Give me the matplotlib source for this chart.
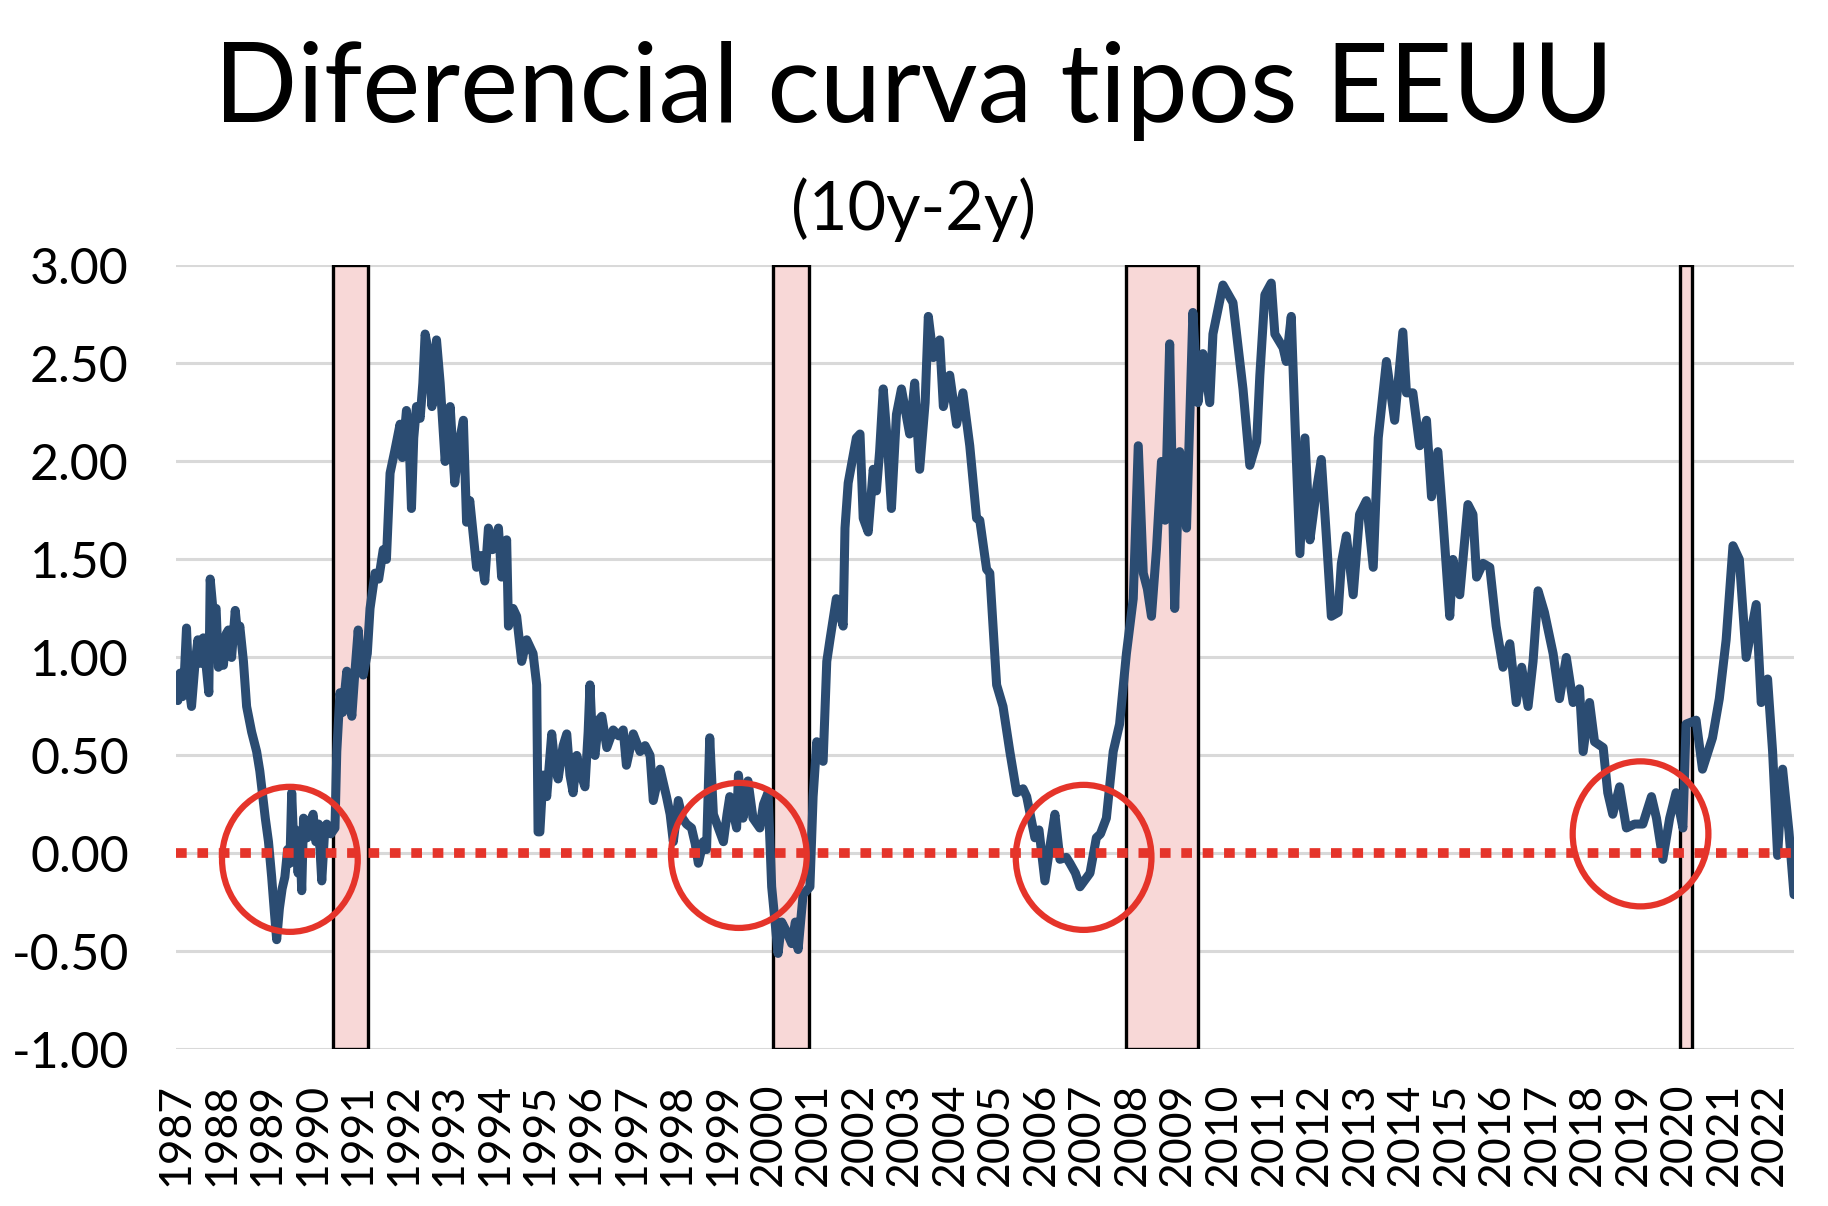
import matplotlib
matplotlib.use("Agg")
import matplotlib.pyplot as plt
from matplotlib.patches import Ellipse
from matplotlib.ticker import FormatStrFormatter

plt.rcParams["font.family"] = ["Lato", "DejaVu Sans"]
plt.rcParams["axes.unicode_minus"] = False

# diferencial 10y-2y (fecha en años decimales, valor en puntos)
fechas = [
    1987.00, 1987.04, 1987.09, 1987.14, 1987.19, 1987.23, 1987.28, 1987.34, 1987.41, 1987.48,
    1987.54, 1987.60, 1987.66, 1987.72, 1987.75, 1987.82, 1987.88, 1987.93, 1988.00, 1988.04,
    1988.10, 1988.15, 1988.22, 1988.30, 1988.36, 1988.40, 1988.48, 1988.55, 1988.66, 1988.77,
    1988.84, 1988.88, 1988.96, 1989.03, 1989.10, 1989.16, 1989.21, 1989.27, 1989.33, 1989.39,
    1989.45, 1989.50, 1989.54, 1989.59, 1989.63, 1989.68, 1989.72, 1989.76, 1989.80, 1989.88,
    1989.95, 1990.01, 1990.07, 1990.13, 1990.20, 1990.26, 1990.31, 1990.40, 1990.49, 1990.53,
    1990.60, 1990.66, 1990.75, 1990.81, 1990.86, 1990.92, 1991.00, 1991.06, 1991.11, 1991.20,
    1991.26, 1991.37, 1991.45, 1991.55, 1991.62, 1991.70, 1991.80, 1991.92, 1991.97, 1992.06,
    1992.12, 1992.17, 1992.22, 1992.28, 1992.36, 1992.42, 1992.47, 1992.55, 1992.62, 1992.72,
    1992.80, 1992.91,
    1993.02, 1993.12, 1993.22, 1993.31, 1993.38, 1993.45, 1993.53, 1993.60, 1993.70, 1993.78,
    1993.86, 1993.95, 1994.08, 1994.15, 1994.26, 1994.30, 1994.40, 1994.48, 1994.59, 1994.70,
    1994.84, 1994.92, 1994.95, 1994.99, 1995.06, 1995.14, 1995.25, 1995.32, 1995.39, 1995.50,
    1995.58, 1995.65, 1995.72, 1995.80, 1995.87, 1995.98, 1996.05, 1996.09, 1996.15, 1996.20,
    1996.28, 1996.35, 1996.46, 1996.60, 1996.72, 1996.82, 1996.89, 1997.04, 1997.19, 1997.30,
    1997.41, 1997.48, 1997.63, 1997.77, 1997.85, 1997.92, 1998.03, 1998.12, 1998.21, 1998.32,
    1998.40, 1998.47, 1998.58, 1998.65, 1998.72, 1998.80,
    1999.02, 1999.10, 1999.16, 1999.31, 1999.35, 1999.45, 1999.56, 1999.67, 1999.82, 1999.90,
    2000.00, 2000.08, 2000.22, 2000.30, 2000.41, 2000.52, 2000.60, 2000.66, 2000.77, 2000.92,
    2000.99, 2001.07, 2001.14, 2001.21, 2001.29, 2001.36, 2001.50, 2001.65, 2001.69, 2001.76,
    2001.94, 2002.02, 2002.09, 2002.20, 2002.31, 2002.38, 2002.45, 2002.53, 2002.62, 2002.71,
    2002.82, 2002.93, 2003.11, 2003.22, 2003.33, 2003.45, 2003.52, 2003.63, 2003.77, 2003.85,
    2003.99, 2004.14, 2004.28, 2004.43, 2004.58, 2004.65, 2004.80,
    2004.87, 2005.02, 2005.16, 2005.31, 2005.46, 2005.60, 2005.68, 2005.86, 2005.95, 2006.08,
    2006.20, 2006.30, 2006.41, 2006.55, 2006.63, 2006.75, 2006.85, 2007.07, 2007.21, 2007.30,
    2007.43, 2007.58, 2007.72, 2007.87, 2008.02, 2008.13, 2008.24, 2008.33, 2008.42, 2008.53,
    2008.64, 2008.72, 2008.82, 2008.93, 2009.04, 2009.19, 2009.33, 2009.44, 2009.55, 2009.70,
    2009.77, 2009.99, 2010.21, 2010.43, 2010.58, 2010.73, 2010.80,
    2010.91, 2011.05, 2011.13, 2011.31, 2011.38, 2011.49, 2011.57, 2011.68, 2011.79, 2011.90,
    2012.04, 2012.15, 2012.26, 2012.37, 2012.52, 2012.59, 2012.70, 2012.85, 2012.99, 2013.14,
    2013.29, 2013.40, 2013.58, 2013.76, 2013.94, 2014.02, 2014.16, 2014.31, 2014.46, 2014.57,
    2014.71, 2014.82, 2014.97, 2015.04, 2015.19, 2015.37, 2015.48, 2015.56, 2015.70, 2015.85,
    2015.99, 2016.14, 2016.29, 2016.43, 2016.55, 2016.69, 2016.80, 2016.91,
    2017.05, 2017.24, 2017.38, 2017.53, 2017.68, 2017.82, 2017.90, 2018.04, 2018.15, 2018.34,
    2018.44, 2018.55, 2018.70, 2018.85, 2019.03, 2019.21, 2019.40, 2019.51, 2019.65, 2019.80,
    2019.94, 2020.09, 2020.16, 2020.38, 2020.52, 2020.74, 2020.89, 2021.04, 2021.19, 2021.33,
    2021.48, 2021.70, 2021.81, 2021.95, 2022.06, 2022.17, 2022.28, 2022.42, 2022.53,
]
diferencial = [
    0.85, 0.78, 0.92, 0.80, 0.95, 1.15, 0.86, 0.75, 0.95, 1.09,
    0.97, 1.10, 0.96, 0.82, 1.40, 1.22, 1.25, 0.95, 1.05, 0.96,
    1.12, 1.14, 1.00, 1.24, 1.10, 1.16, 0.98, 0.75, 0.62, 0.52,
    0.42, 0.34, 0.18, 0.06, -0.12, -0.30, -0.44, -0.28, -0.18, -0.12,
    0.02, -0.05, 0.31, 0.02, 0.12, -0.10, 0.06, -0.19, 0.18, 0.08,
    0.16, 0.20, 0.06, 0.15, -0.14, 0.10, 0.15, 0.10, 0.13, 0.52,
    0.82, 0.72, 0.93, 0.80, 0.70, 0.90, 1.14, 0.95, 0.91, 1.02,
    1.25, 1.43, 1.40, 1.55, 1.50, 1.94, 2.05, 2.19, 2.02, 2.26,
    2.10, 1.76, 2.12, 2.28, 2.22, 2.40, 2.65, 2.55, 2.28, 2.62,
    2.40, 2.00,
    2.28, 1.89, 2.10, 2.21, 1.69, 1.80, 1.62, 1.46, 1.52, 1.39,
    1.66, 1.55, 1.66, 1.41, 1.60, 1.16, 1.25, 1.21, 0.98, 1.09,
    1.02, 0.86, 0.11, 0.11, 0.40, 0.29, 0.61, 0.45, 0.38, 0.55,
    0.61, 0.40, 0.31, 0.50, 0.42, 0.34, 0.62, 0.86, 0.55, 0.50,
    0.68, 0.70, 0.54, 0.63, 0.60, 0.63, 0.45, 0.61, 0.52, 0.55,
    0.50, 0.27, 0.43, 0.29, 0.20, 0.06, 0.27, 0.18, 0.15, 0.13,
    0.05, -0.05, 0.06, 0.02, 0.59, 0.20,
    0.06, 0.20, 0.29, 0.13, 0.40, 0.18, 0.37, 0.18, 0.13, 0.25,
    0.31, -0.17, -0.51, -0.35, -0.40, -0.46, -0.35, -0.49, -0.21, -0.17,
    0.29, 0.57, 0.50, 0.47, 0.98, 1.09, 1.30, 1.16, 1.66, 1.89,
    2.12, 2.14, 1.71, 1.64, 1.96, 1.85, 2.05, 2.37, 2.10, 1.76,
    2.24, 2.37, 2.14, 2.40, 1.96, 2.30, 2.74, 2.53, 2.62, 2.28,
    2.44, 2.19, 2.35, 2.08, 1.71, 1.70, 1.45,
    1.43, 0.86, 0.75, 0.52, 0.31, 0.33, 0.29, 0.08, 0.12, -0.14,
    0.05, 0.20, -0.03, -0.02, -0.05, -0.10, -0.17, -0.10, 0.08, 0.10,
    0.18, 0.52, 0.66, 1.02, 1.30, 2.08, 1.43, 1.35, 1.21, 1.55,
    2.00, 1.70, 2.60, 1.25, 2.05, 1.66, 2.76, 2.30, 2.55, 2.30,
    2.65, 2.90, 2.81, 2.37, 1.98, 2.10, 2.44,
    2.85, 2.91, 2.65, 2.58, 2.51, 2.74, 2.21, 1.53, 2.12, 1.60,
    1.85, 2.01, 1.62, 1.21, 1.23, 1.48, 1.62, 1.32, 1.73, 1.80,
    1.46, 2.12, 2.51, 2.21, 2.66, 2.35, 2.35, 2.08, 2.21, 1.82,
    2.05, 1.71, 1.21, 1.50, 1.32, 1.78, 1.73, 1.41, 1.48, 1.46,
    1.16, 0.95, 1.07, 0.77, 0.95, 0.75, 0.98, 1.34,
    1.23, 1.02, 0.79, 1.00, 0.77, 0.84, 0.52, 0.77, 0.57, 0.54,
    0.31, 0.20, 0.34, 0.13, 0.15, 0.15, 0.29, 0.18, -0.03, 0.18,
    0.31, 0.13, 0.66, 0.68, 0.43, 0.59, 0.79, 1.09, 1.57, 1.50,
    1.00, 1.27, 0.77, 0.89, 0.52, -0.01, 0.43, 0.11, -0.21,
]

# recesiones sombreadas (inicio, fin)
recesiones = [(1990.45, 1991.22), (2000.10, 2000.89), (2007.87, 2009.44), (2020.02, 2020.30)]

# circulos de inversion (centro año, centro valor)
circulos = [(1989.50, -0.03), (1999.36, -0.01), (2006.93, -0.02), (2019.16, 0.10)]

anios = list(range(1987, 2023))

fig = plt.figure(figsize=(18.28, 12.06), dpi=100)
ax = fig.add_axes([0.0963, 0.1298, 0.8851, 0.6501])

for ini, fin in recesiones:
    ax.axvspan(ini, fin, ymin=0, ymax=1, facecolor="#F8D8D7", edgecolor="black", lw=2.4, zorder=1)

ax.plot(fechas, diferencial, color="#2B4C72", lw=6.5, solid_joinstyle="round",
        solid_capstyle="round", zorder=3)

ax.axhline(0, color="#E5342A", lw=7, dashes=(1.1, 1.1), dash_capstyle="butt", zorder=4)

for cx, cy in circulos:
    ax.add_patch(Ellipse((cx, cy), width=2.98, height=0.74, fill=False,
                         edgecolor="#E5342A", lw=4.5, zorder=5))

ax.set_xlim(1987.0, 2022.53)
ax.set_ylim(-1, 3)
ax.set_yticks([-1, -0.5, 0, 0.5, 1, 1.5, 2, 2.5, 3])
ax.yaxis.set_major_formatter(FormatStrFormatter("%.2f"))
ax.set_xticks(anios)
ax.set_xticklabels([str(a) for a in anios], rotation=90, fontsize=32)
ax.tick_params(axis="y", labelsize=36, length=0, pad=34)
ax.tick_params(axis="x", length=0, pad=24)
ax.yaxis.grid(True, color="#D9D9D9", lw=2.2, zorder=0)
ax.set_axisbelow(True)
for s in ax.spines.values():
    s.set_visible(False)

fig.text(0.5, 1 - 122 / 1206, "Diferencial curva tipos EEUU", ha="center", va="baseline", fontsize=79)
fig.text(0.5, 1 - 230 / 1206, "(10y-2y)", ha="center", va="baseline", fontsize=48)

fig.savefig("out.png", dpi=100)
